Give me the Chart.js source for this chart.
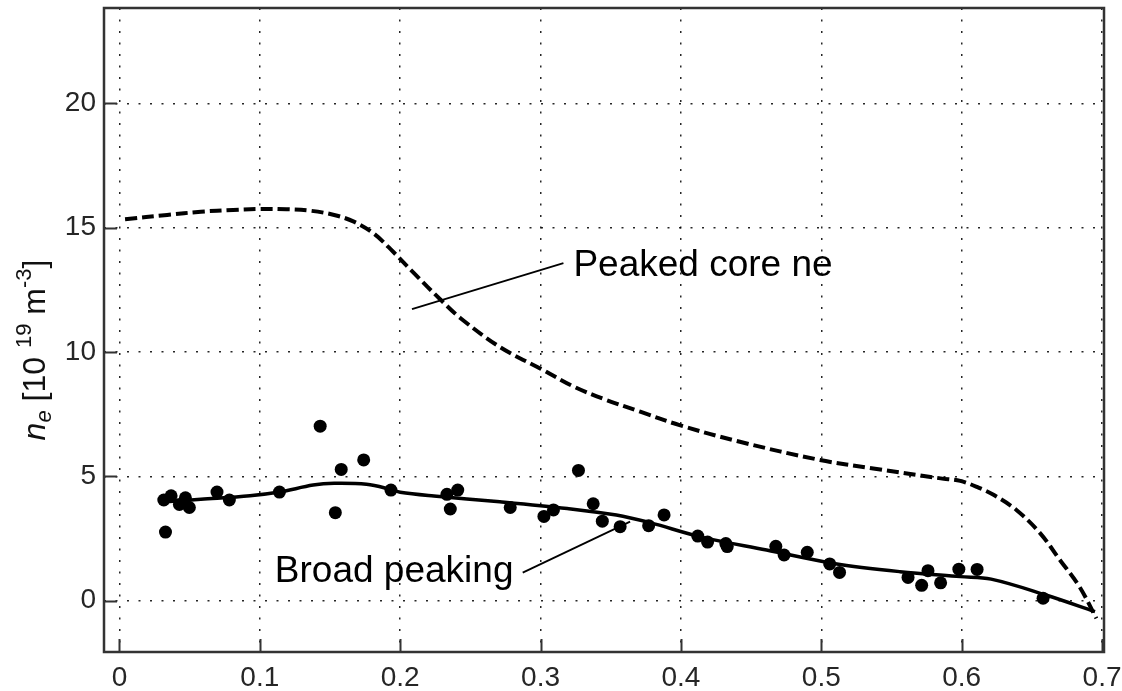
<!DOCTYPE html>
<html>
<head>
<meta charset="utf-8">
<script src="https://cdn.jsdelivr.net/npm/chart.js@4.4.1/dist/chart.umd.min.js"></script>
<style>
  html, body { margin: 0; padding: 0; background: #fff; }
  #wrap { width: 1122px; height: 691px; }
</style>
</head>
<body>
<div id="wrap"><canvas id="profile" width="1122" height="691"></canvas></div>
<script>
// axis ticks
const xTicks = [0, 0.1, 0.2, 0.3, 0.4, 0.5, 0.6, 0.7]
const yTicks = [0, 5, 10, 15, 20]

// peaked core density profile (dashed)
const peakedX = [0.004, 0.034, 0.058, 0.081, 0.100, 0.119, 0.136, 0.153, 0.167, 0.181, 0.195, 0.210, 0.229, 0.243, 0.271, 0.300, 0.324, 0.347, 0.371, 0.399, 0.442, 0.499, 0.537, 0.585, 0.599, 0.612, 0.623, 0.639, 0.656, 0.670, 0.684, 0.696]
const peakedY = [15.34, 15.51, 15.64, 15.71, 15.75, 15.74, 15.68, 15.51, 15.24, 14.77, 14.03, 13.16, 12.09, 11.36, 10.2, 9.33, 8.6, 8.07, 7.6, 7.06, 6.39, 5.66, 5.32, 4.92, 4.82, 4.55, 4.25, 3.65, 2.71, 1.64, 0.56, -0.71]

// broad peaking fit (solid)
const broadX = [0.030, 0.058, 0.093, 0.114, 0.138, 0.153, 0.176, 0.193, 0.200, 0.224, 0.271, 0.319, 0.354, 0.378, 0.414, 0.461, 0.509, 0.556, 0.599, 0.621, 0.660, 0.695]
const broadY = [3.97, 4.08, 4.22, 4.37, 4.65, 4.72, 4.68, 4.48, 4.36, 4.21, 3.98, 3.71, 3.45, 3.14, 2.57, 2.04, 1.50, 1.17, 0.97, 0.87, 0.23, -0.44]

// measured points
const measX = [0.0316, 0.0368, 0.0427, 0.047, 0.0498, 0.0328, 0.0695, 0.0783, 0.114, 0.143, 0.1538, 0.158, 0.174, 0.1934, 0.2333, 0.241, 0.2357, 0.2784, 0.3024, 0.3092, 0.327, 0.3375, 0.344, 0.3567, 0.377, 0.388, 0.412, 0.419, 0.432, 0.433, 0.4676, 0.4735, 0.490, 0.506, 0.513, 0.5618, 0.5715, 0.576, 0.585, 0.598, 0.611, 0.658]
const measY = [4.05, 4.22, 3.87, 4.14, 3.75, 2.76, 4.37, 4.05, 4.37, 7.02, 3.54, 5.28, 5.66, 4.45, 4.28, 4.45, 3.69, 3.75, 3.39, 3.65, 5.24, 3.9, 3.2, 2.98, 3.02, 3.45, 2.6, 2.36, 2.3, 2.18, 2.19, 1.84, 1.95, 1.48, 1.14, 0.94, 0.62, 1.21, 0.72, 1.27, 1.26, 0.1]

// callout labels: text anchor and leader line, in data units
const callouts = [
  { text: "Peaked core ne", at: [0.3234, 13.05], align: "left", from: [0.2084, 11.72], to: [0.3163, 13.57] },
  { text: "Broad peaking", at: [0.2807, 0.76], align: "right", from: [0.2873, 1.13], to: [0.3638, 3.18] },
]

const FONT = "'Liberation Sans', Arial, sans-serif"
const toXY = (xs, ys) => xs.map((x, i) => ({ x, y: ys[i] }))

// box, inward ticks, callouts and the y title
const decorations = {
  id: "decorations",
  afterDraw(chart) {
    const { ctx, chartArea: a, scales } = chart
    const sx = scales.x, sy = scales.y
    ctx.save()

    // inward tick marks on left and bottom
    ctx.strokeStyle = "#333"
    ctx.lineWidth = 2
    ctx.beginPath()
    yTicks.forEach((v) => {
      const py = Math.round(sy.getPixelForValue(v)) + 0.5
      ctx.moveTo(a.left, py)
      ctx.lineTo(a.left + 13, py)
    })
    xTicks.forEach((v) => {
      const px = Math.round(sx.getPixelForValue(v)) + 0.5
      ctx.moveTo(px, a.bottom)
      ctx.lineTo(px, a.bottom - 13)
    })
    ctx.stroke()

    // axes box
    ctx.lineWidth = 2.5
    ctx.strokeRect(a.left, a.top, a.right - a.left, a.bottom - a.top)

    // callouts
    ctx.fillStyle = "#000"
    ctx.strokeStyle = "#000"
    ctx.lineWidth = 1.8
    ctx.font = "37px " + FONT
    ctx.textBaseline = "alphabetic"
    callouts.forEach((c) => {
      ctx.beginPath()
      ctx.moveTo(sx.getPixelForValue(c.from[0]), sy.getPixelForValue(c.from[1]))
      ctx.lineTo(sx.getPixelForValue(c.to[0]), sy.getPixelForValue(c.to[1]))
      ctx.stroke()
      ctx.textAlign = c.align
      ctx.fillText(c.text, sx.getPixelForValue(c.at[0]), sy.getPixelForValue(c.at[1]))
    })

    // y title: n_e [10^19 m^-3]
    const parts = [
      { t: "n", f: "italic 32px " + FONT, dy: 0 },
      { t: "e", f: "italic 22px " + FONT, dy: 6 },
      { t: " [10 ", f: "32px " + FONT, dy: 0 },
      { t: "19", f: "22px " + FONT, dy: -14 },
      { t: " m", f: "32px " + FONT, dy: 0 },
      { t: "-3", f: "22px " + FONT, dy: -14 },
      { t: "]", f: "32px " + FONT, dy: 0 },
    ]
    let total = 0
    parts.forEach((p) => { ctx.font = p.f; p.w = ctx.measureText(p.t).width; total += p.w })
    ctx.translate(45, 350)
    ctx.rotate(-Math.PI / 2)
    ctx.fillStyle = "#111"
    ctx.textAlign = "left"
    let cx = -total / 2
    parts.forEach((p) => {
      ctx.font = p.f
      ctx.fillText(p.t, cx, p.dy)
      cx += p.w
    })
    ctx.restore()
  },
}

new Chart(document.getElementById("profile"), {
  type: "scatter",
  data: {
    datasets: [
      {
        label: "Measured",
        data: toXY(measX, measY),
        pointRadius: 6.5,
        pointBackgroundColor: "#000",
        pointBorderWidth: 0,
        showLine: false,
        order: 0,
      },
      {
        label: "Broad peaking",
        data: toXY(broadX, broadY),
        showLine: true,
        borderColor: "#000",
        borderWidth: 3.5,
        pointRadius: 0,
        tension: 0.35,
        order: 1,
      },
      {
        label: "Peaked core ne",
        data: toXY(peakedX, peakedY),
        showLine: true,
        borderColor: "#000",
        borderWidth: 4,
        borderDash: [12, 5],
        pointRadius: 0,
        tension: 0.35,
        order: 2,
      },
    ],
  },
  options: {
    responsive: false,
    animation: false,
    devicePixelRatio: 1,
    layout: { padding: { top: 8, right: 18, left: 0, bottom: 0 } },
    plugins: {
      legend: { display: false },
      tooltip: { enabled: false },
    },
    scales: {
      x: {
        type: "linear",
        min: -0.011,
        max: 0.7014,
        afterBuildTicks: (s) => { s.ticks = xTicks.map((v) => ({ value: v })) },
        afterFit: (s) => { s.height = 39; s.paddingLeft = 0; s.paddingRight = 0 },
        ticks: {
          callback: (v) => String(v),
          color: "#262626",
          font: { family: FONT, size: 28 },
          padding: 9,
          maxRotation: 0,
        },
        grid: { color: "rgba(0,0,0,0.85)", lineWidth: 1.5, drawTicks: false },
        border: { display: false, dash: [2, 9.5] },
      },
      y: {
        type: "linear",
        min: -2.06,
        max: 23.83,
        afterBuildTicks: (s) => { s.ticks = yTicks.map((v) => ({ value: v })) },
        afterFit: (s) => { s.width = 104; s.paddingTop = 0; s.paddingBottom = 0 },
        ticks: {
          callback: (v) => String(v),
          color: "#262626",
          font: { family: FONT, size: 28 },
          padding: 8,
        },
        grid: { color: "rgba(0,0,0,0.85)", lineWidth: 1.5, drawTicks: false },
        border: { display: false, dash: [2, 9.5] },
      },
    },
  },
  plugins: [decorations],
})
</script>
</body>
</html>
